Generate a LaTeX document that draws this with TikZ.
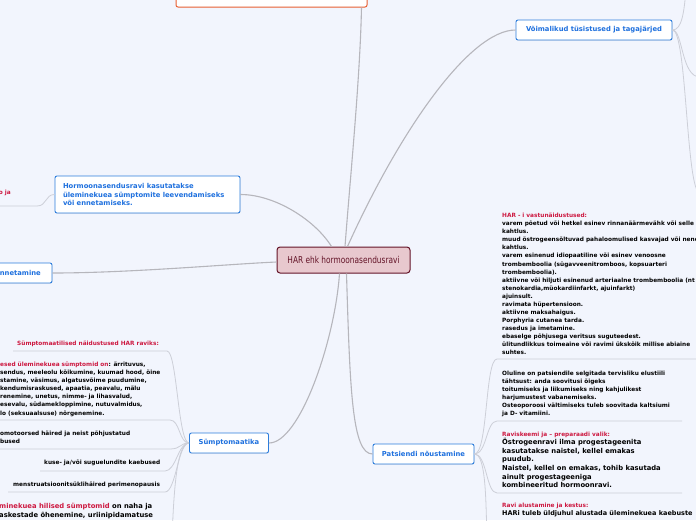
\documentclass[tikz,border=0pt]{standalone}
\usepackage{fontspec}
\setmainfont{DejaVu Sans}
\newfontfamily\condfont{DejaVu Sans}[FakeStretch=0.78]
\usetikzlibrary{shadows}

\definecolor{bgcol}{RGB}{242,245,253}
\definecolor{boxblue}{RGB}{45,125,220}
\definecolor{textblue}{RGB}{30,112,222}
\definecolor{redtxt}{RGB}{205,25,65}
\definecolor{trunkgrey}{RGB}{182,182,188}
\definecolor{branchgrey}{RGB}{205,207,216}
\definecolor{harfill}{RGB}{232,200,206}
\definecolor{harline}{RGB}{100,20,40}
\definecolor{topline}{RGB}{232,95,50}

\newcommand\smallfnt{\fontsize{5.8}{8.06}\selectfont\bfseries}
\newcommand\bigfnt{\fontsize{6.8}{8.6}\selectfont\bfseries}
\newcommand\boxfnt{\fontsize{6.8}{8.5}\selectfont\bfseries}

\tikzset{
    topic/.style={draw=boxblue, fill=white, rounded corners=2pt, line width=0.9pt,
        text=textblue, font=\boxfnt, inner sep=0pt, minimum height=20pt,
        drop shadow={shadow xshift=0.5pt, shadow yshift=-0.8pt, opacity=0.12}},
    central/.style={draw=harline, fill=harfill, rounded corners=3pt, line width=1pt,
        text=harline, font=\condfont\fontsize{9.5}{11}\selectfont, inner sep=0pt,
        minimum width=133pt, minimum height=26pt},
    topbox/.style={draw=topline, fill=white, rounded corners=2pt, line width=1pt,
        minimum width=191pt, minimum height=24pt, inner sep=0pt},
    note/.style={inner sep=0pt, align=left, anchor=north west, font=\smallfnt},
    trunk/.style={draw=trunkgrey, line width=1.1pt},
    branch/.style={draw=branchgrey, line width=0.8pt},
}

\begin{document}
\begin{tikzpicture}[x=1pt,y=-1pt]
    \useasboundingbox (0,0) rectangle (696,520);
    \fill[bgcol] (0,0) rectangle (696,520);
    \clip (0,0) rectangle (696,520);

    \node[central] (har) at (343.5,260) {HAR ehk hormoonasendusravi};

    \node[topbox] (top) at (271.5,-5) {};
    \node[topic, minimum width=156pt] (vt) at (594,30) {Võimalikud tüsistused ja tagajärjed};
    \node[topic, minimum width=185pt, minimum height=37pt, text width=169pt, align=left] (hb) at (147.5,194.5)
        {Hormoonasendusravi kasutatakse\\üleminekuea sümptomite leevendamiseks\\või ennetamiseks.};
    \node[topic, minimum width=68pt] (en) at (18,273) {Ennetamine};
    \node[topic, minimum width=79pt] (sym) at (229,443) {Sümptomaatika};
    \node[topic, minimum width=101pt] (pat) at (423.5,454) {Patsiendi nõustamine};

    \draw[trunk] ([xshift=90pt]top.south) .. controls (360,80) and (350,180) .. ([xshift=1.5pt]har.north);
    \draw[trunk] ([xshift=4pt]har.north) .. controls (400,130) and (470,30) .. (vt.west);
    \draw[trunk] ([xshift=-12pt]har.north) .. controls (315,220) and (275,194.5) .. (hb.east);
    \draw[trunk] ([yshift=-2pt]har.west) .. controls (230,264) and (130,273) .. (en.east);
    \draw[trunk] ([xshift=-4pt]har.south) .. controls (335,340) and (300,443) .. (sym.east);
    \draw[trunk] ([xshift=3pt]har.south) .. controls (350,390) and (352,454) .. (pat.west);

    \coordinate (vtA) at (686,-10);
    \coordinate (vtB) at (700,77);
    \coordinate (vtC) at (700,193);
    \draw[branch] (vt.east) .. controls (682,30) and (684,12) .. (vtA);
    \draw[branch] (vt.east) .. controls (683,30) and (681,77) .. (vtB);
    \draw[branch] (vt.east) .. controls (687,30) and (686,193) .. (vtC);

    \node[note, anchor=north east, text=redtxt] (prev) at (11,190) {o ja};
    \coordinate (prevR) at (37,206);
    \draw[branch] (hb.west) .. controls (45,194.5) and (47,206) .. (prevR) -- (-5,206);

    \node[note] (indic) at (17,341) {\color{redtxt}Sümptomaatilised näidustused HAR raviks:};
    \node[note] (early) at (0,362) {{\color{redtxt}esed üleminekuea sümptomid on}: ärrituvus,\\
        sendus, meeleolu kõikumine, kuumad hood, öine\\
        stamine, väsimus, algatusvõime puudumine,\\
        kendumisraskused, apaatia, peavalu, mälu\\
        renemine, unetus, nimme- ja lihasvalud,\\
        esevalu, südamekloppimine, nutuvalmidus,\\
        lo (seksuaalsuse) nõrgenemine.};
    \node[note] (vaso) at (0,431) {omotoorsed häired ja neist põhjustatud\\bused};
    \node[note] (uro) at (44,460) {kuse- ja/või suguelundite kaebused};
    \node[note] (mens) at (13,482) {menstruatsioonitsüklihäired perimenopausis};
    \node[note, font=\bigfnt] (late) at (-1,503.5) {{\color{redtxt}minekuea hilised sümptomid} on naha ja\\
        askestade õhenemine, uriinipidamatuse};

    \coordinate (indicR) at (167,351);
    \coordinate (earlyR) at (170,420);
    \coordinate (vasoR) at (170,449);
    \coordinate (uroR) at (165,471);
    \coordinate (mensR) at (165,492);
    \coordinate (lateR) at (172,540);
    \draw[branch] (sym.west) .. controls (178,443) and (177,351) .. (indicR) -- (13,351);
    \draw[branch] (sym.west) .. controls (179,443) and (180,420) .. (earlyR) -- (-5,420);
    \draw[branch] (sym.west) .. controls (180,443) and (181,449) .. (vasoR) -- (-5,449);
    \draw[branch] (sym.west) .. controls (178,443) and (176,471) .. (uroR) -- (40,471);
    \draw[branch] (sym.west) .. controls (178,443) and (176,492) .. (mensR) -- (8,492);
    \draw[branch] (sym.west) .. controls (178,443) and (174,480) .. (lateR);

    \node[note] (contra) at (502,213) {{\color{redtxt}HAR - i vastunäidustused:}\\
        varem põetud või hetkel esinev rinnanäärmevähk või selle\\
        kahtlus.\\
        muud östrogeensõltuvad pahaloomulised kasvajad või nende\\
        kahtlus.\\
        varem esinenud idiopaatiline või esinev venoosne\\
        trombemboolia (sügavveenitromboos, kopsuarteri\\
        trombemboolia).\\
        aktiivne või hiljuti esinenud arteriaalne trombemboolia (nt\\
        stenokardia,müokardiinfarkt, ajuinfarkt)\\
        ajuinsult.\\
        ravimata hüpertensioon.\\
        aktiivne maksahaigus.\\
        Porphyria cutanea tarda.\\
        rasedus ja imetamine.\\
        ebaselge põhjusega veritsus suguteedest.\\
        ülitundlikkus toimeaine või ravimi ükskõik millise abiaine\\
        suhtes.};
    \node[note] (life) at (502,371) {Oluline on patsiendile selgitada tervisliku elustiili\\
        tähtsust: anda soovitusi õigeks\\
        toitumiseks ja liikumiseks ning kahjulikest\\
        harjumustest vabanemiseks.\\
        Osteoporoosi vältimiseks tuleb soovitada kaltsiumi\\
        ja D- vitamiini.};
    \node[note, font=\bigfnt] (scheme) at (502,431.5) {{\smallfnt\color{redtxt}Raviskeemi ja – preparaadi valik:}\\
        Östrogeenravi ilma progestageenita\\
        kasutatakse naistel, kellel emakas\\
        puudub.\\
        Naistel, kellel on emakas, tohib kasutada\\
        ainult progestageeniga\\
        kombineeritud hormoonravi.};
    \node[note, font=\fontsize{6.5}{8.2}\selectfont\bfseries] (start) at (502,503)
        {{\smallfnt\color{redtxt}Ravi alustamine ja kestus:}\\
        HARi tuleb üldjuhul alustada üleminekuea kaebuste};

    \coordinate (contraL) at (497,359);
    \coordinate (lifeL) at (497,421);
    \coordinate (schemeL) at (497,493);
    \coordinate (startL) at (487,545);
    \draw[branch] (pat.east) .. controls (488,454) and (485,359) .. (contraL) -- (700,359);
    \draw[branch] (pat.east) .. controls (487,454) and (486,421) .. (lifeL) -- (682,421);
    \draw[branch] (pat.east) .. controls (487,454) and (486,493) .. (schemeL) -- (682,493);
    \draw[branch] (pat.east) .. controls (486,454) and (486,500) .. (startL);
\end{tikzpicture}
\end{document}
